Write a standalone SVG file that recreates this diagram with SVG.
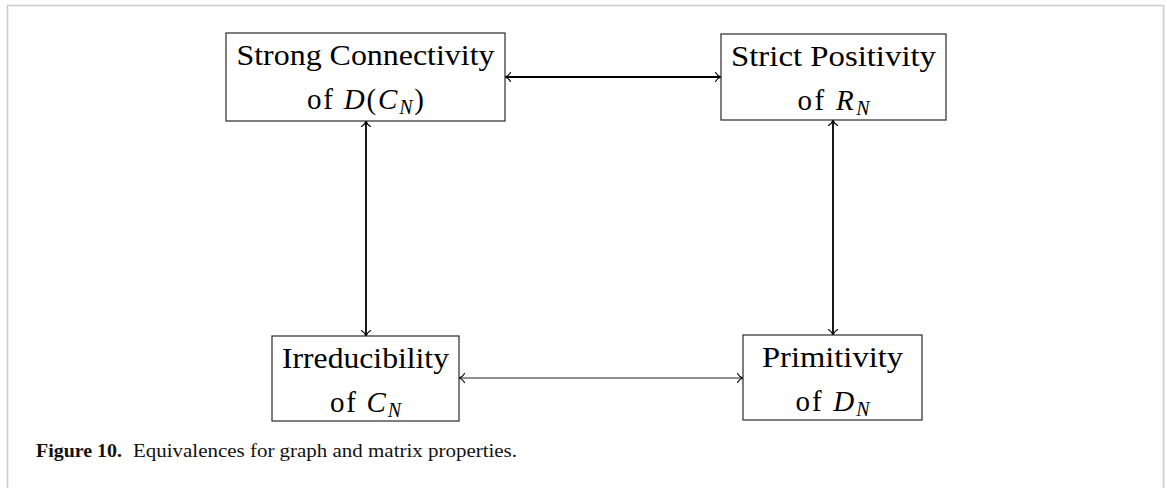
<svg xmlns="http://www.w3.org/2000/svg" width="1167" height="488" viewBox="0 0 1167 488">
  <style>
    .box { fill: #ffffff; stroke: #2a2a2a; stroke-width: 1.2; }
    .lbl { font-family: "Liberation Serif", "DejaVu Serif", serif; font-size: 29px; fill: #000; }
    .it { font-style: italic; }
    .sub { font-style: italic; font-size: 20px; }
    .thick { stroke: #000; stroke-width: 1.8; fill: none; }
    .thin { stroke: #222; stroke-width: 1.1; fill: none; }
    .cap { font-family: "Liberation Serif", "DejaVu Serif", serif; font-size: 19.5px; fill: #111; }
  </style>
  <defs>
    <marker id="to" viewBox="-8 -6 10 12" refX="0" refY="0" markerWidth="10" markerHeight="12" markerUnits="userSpaceOnUse" orient="auto-start-reverse">
      <path d="M -5.5,-4.6 C -4,-1.8 -1.3,-0.4 0,0 C -1.3,0.4 -4,1.8 -5.5,4.6" fill="none" stroke="#000" stroke-width="1.1" stroke-linecap="round"/>
    </marker>
  </defs>

  <rect width="1167" height="488" fill="#ffffff"/>
  <path d="M 7.5 490 V 5.5 H 1163.5 V 490" fill="none" stroke="#cccccc" stroke-width="1.6"/>

  <g id="connectors">
    <line class="thick" x1="505" y1="77" x2="721" y2="77" marker-start="url(#to)" marker-end="url(#to)"/>
    <line class="thick" x1="366" y1="121" x2="366" y2="336" marker-start="url(#to)" marker-end="url(#to)"/>
    <line class="thick" x1="833" y1="120" x2="833" y2="335" marker-start="url(#to)" marker-end="url(#to)"/>
    <line class="thin" x1="459" y1="378" x2="743" y2="378" marker-start="url(#to)" marker-end="url(#to)"/>
  </g>

  <g id="strong-connectivity">
    <rect class="box" x="226" y="33" width="279" height="88"/>
    <text class="lbl" x="365.5" y="65" text-anchor="middle" textLength="258" lengthAdjust="spacingAndGlyphs">Strong Connectivity</text>
    <text class="lbl" x="365.5" y="109" text-anchor="middle" textLength="117">of <tspan class="it">D</tspan>(<tspan class="it">C</tspan><tspan class="sub" dy="5">N</tspan><tspan dy="-5">)</tspan></text>
  </g>

  <g id="strict-positivity">
    <rect class="box" x="721" y="34" width="225" height="86"/>
    <text class="lbl" x="833.5" y="66" text-anchor="middle" textLength="205" lengthAdjust="spacingAndGlyphs">Strict Positivity</text>
    <text class="lbl" x="833.5" y="110" text-anchor="middle" textLength="72">of <tspan class="it">R</tspan><tspan class="sub" dy="5">N</tspan></text>
  </g>

  <g id="irreducibility">
    <rect class="box" x="272" y="336" width="187" height="85"/>
    <text class="lbl" x="365.5" y="368" text-anchor="middle" textLength="167" lengthAdjust="spacingAndGlyphs">Irreducibility</text>
    <text class="lbl" x="365.5" y="412" text-anchor="middle" textLength="71">of <tspan class="it">C</tspan><tspan class="sub" dy="5">N</tspan></text>
  </g>

  <g id="primitivity">
    <rect class="box" x="743" y="335" width="179" height="85"/>
    <text class="lbl" x="832.5" y="367" text-anchor="middle" textLength="141" lengthAdjust="spacingAndGlyphs">Primitivity</text>
    <text class="lbl" x="832.5" y="411" text-anchor="middle" textLength="74">of <tspan class="it">D</tspan><tspan class="sub" dy="5">N</tspan></text>
  </g>

  <g id="caption">
    <text class="cap" x="36" y="457" font-weight="bold" textLength="86" lengthAdjust="spacingAndGlyphs">Figure 10.</text>
    <text class="cap" x="133" y="457" textLength="384" lengthAdjust="spacingAndGlyphs">Equivalences for graph and matrix properties.</text>
  </g>
</svg>
